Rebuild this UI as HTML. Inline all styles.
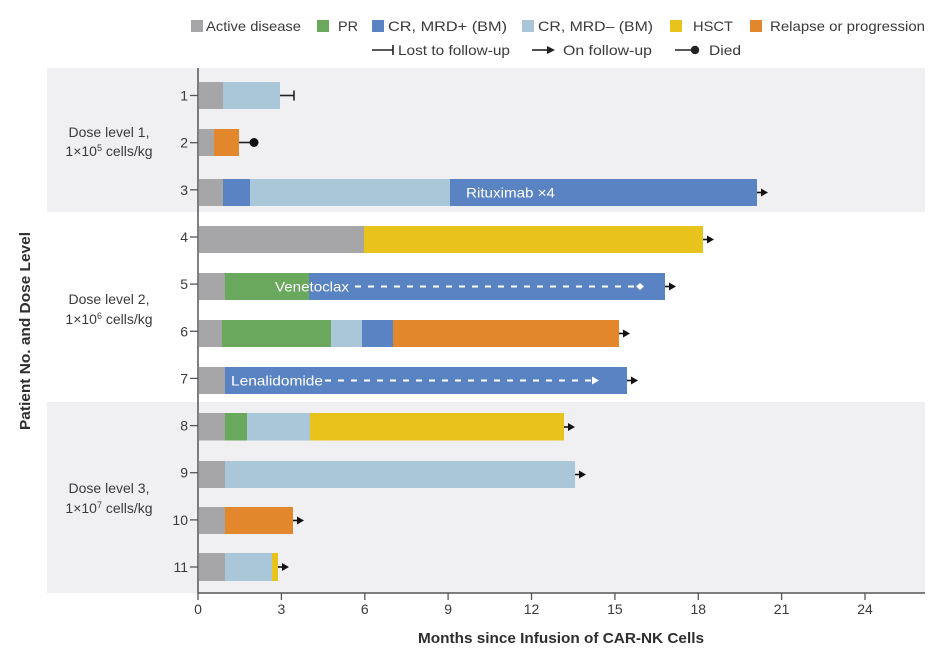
<!DOCTYPE html>
<html><head><meta charset="utf-8"><style>
html,body{margin:0;padding:0;background:#fff;}
svg{display:block;}
text{font-family:"Liberation Sans",sans-serif;fill:#3a3a3a;}
</style></head><body>
<svg width="937" height="658" viewBox="0 0 937 658" xmlns="http://www.w3.org/2000/svg">
<!-- bands -->
<rect x="47" y="68" width="878" height="144" fill="#f0f0f2"/>
<rect x="47" y="402" width="878" height="191" fill="#f0f0f2"/>

<!-- legend row 1 -->
<g font-size="14">
<rect x="191" y="20" width="12" height="12" fill="#a6a6a9"/>
<text x="206" y="31" textLength="95" lengthAdjust="spacingAndGlyphs">Active disease</text>
<rect x="317" y="20" width="12" height="12" fill="#6aa85e"/>
<text x="338" y="31" textLength="20" lengthAdjust="spacingAndGlyphs">PR</text>
<rect x="372" y="20" width="12" height="12" fill="#5a83c4"/>
<text x="388" y="31" textLength="119" lengthAdjust="spacingAndGlyphs">CR, MRD+ (BM)</text>
<rect x="522" y="20" width="12" height="12" fill="#aac6d9"/>
<text x="538" y="31" textLength="115" lengthAdjust="spacingAndGlyphs">CR, MRD– (BM)</text>
<rect x="670" y="20" width="12" height="12" fill="#e8c31c"/>
<text x="693" y="31" textLength="40" lengthAdjust="spacingAndGlyphs">HSCT</text>
<rect x="750" y="20" width="12" height="12" fill="#e3872c"/>
<text x="770" y="31" textLength="155" lengthAdjust="spacingAndGlyphs">Relapse or progression</text>
<!-- legend row 2 -->
<line x1="372" y1="50" x2="393" y2="50" stroke="#222" stroke-width="1.6"/>
<line x1="393" y1="45" x2="393" y2="55" stroke="#222" stroke-width="1.6"/>
<text x="398" y="55" textLength="112" lengthAdjust="spacingAndGlyphs">Lost to follow-up</text>
<line x1="532" y1="50" x2="548" y2="50" stroke="#222" stroke-width="1.6"/>
<polygon points="547,46 555,50 547,54" fill="#222"/>
<text x="563" y="55" textLength="89" lengthAdjust="spacingAndGlyphs">On follow-up</text>
<line x1="675" y1="50" x2="692" y2="50" stroke="#222" stroke-width="1.6"/>
<circle cx="695" cy="50" r="4.2" fill="#222"/>
<text x="709" y="55" textLength="32" lengthAdjust="spacingAndGlyphs">Died</text>
</g>

<!-- axes -->
<line x1="198" y1="68" x2="198" y2="593" stroke="#555" stroke-width="1.5"/>
<line x1="198" y1="593" x2="925" y2="593" stroke="#555" stroke-width="1.5"/>

<!-- x ticks -->
<g stroke="#555" stroke-width="1.3">
<line x1="198" y1="593" x2="198" y2="600"/>
<line x1="281.4" y1="593" x2="281.4" y2="600"/>
<line x1="364.8" y1="593" x2="364.8" y2="600"/>
<line x1="448.1" y1="593" x2="448.1" y2="600"/>
<line x1="531.5" y1="593" x2="531.5" y2="600"/>
<line x1="614.9" y1="593" x2="614.9" y2="600"/>
<line x1="698.3" y1="593" x2="698.3" y2="600"/>
<line x1="781.6" y1="593" x2="781.6" y2="600"/>
<line x1="865" y1="593" x2="865" y2="600"/>
</g>
<g font-size="14" text-anchor="middle">
<text x="198" y="614">0</text>
<text x="281.4" y="614">3</text>
<text x="364.8" y="614">6</text>
<text x="448.1" y="614">9</text>
<text x="531.5" y="614">12</text>
<text x="614.9" y="614">15</text>
<text x="698.3" y="614">18</text>
<text x="781.6" y="614">21</text>
<text x="865" y="614">24</text>
</g>
<text x="561" y="643" font-size="15" font-weight="bold" text-anchor="middle" textLength="286" lengthAdjust="spacingAndGlyphs" style="fill:#2e2e2e">Months since Infusion of CAR-NK Cells</text>

<!-- y title -->
<text transform="translate(30,331) rotate(-90)" font-size="15" font-weight="bold" text-anchor="middle" textLength="198" lengthAdjust="spacingAndGlyphs" style="fill:#2e2e2e">Patient No. and Dose Level</text>

<!-- dose labels -->
<g font-size="14" text-anchor="middle">
<text x="109" y="137">Dose level 1,</text>
<text x="109" y="156">1×10<tspan font-size="9" dy="-5">5</tspan><tspan dy="5"> cells/kg</tspan></text>
<text x="109" y="304">Dose level 2,</text>
<text x="109" y="324">1×10<tspan font-size="9" dy="-5">6</tspan><tspan dy="5"> cells/kg</tspan></text>
<text x="109" y="493">Dose level 3,</text>
<text x="109" y="513">1×10<tspan font-size="9" dy="-5">7</tspan><tspan dy="5"> cells/kg</tspan></text>
</g>

<!-- y ticks and labels -->
<g stroke="#555" stroke-width="1.3">
<line x1="190" y1="95.5" x2="198" y2="95.5"/>
<line x1="190" y1="142.7" x2="198" y2="142.7"/>
<line x1="190" y1="189.8" x2="198" y2="189.8"/>
<line x1="190" y1="237" x2="198" y2="237"/>
<line x1="190" y1="284.1" x2="198" y2="284.1"/>
<line x1="190" y1="331.3" x2="198" y2="331.3"/>
<line x1="190" y1="378.4" x2="198" y2="378.4"/>
<line x1="190" y1="425.6" x2="198" y2="425.6"/>
<line x1="190" y1="472.7" x2="198" y2="472.7"/>
<line x1="190" y1="519.9" x2="198" y2="519.9"/>
<line x1="190" y1="567" x2="198" y2="567"/>
</g>
<g font-size="14" text-anchor="end">
<text x="188" y="100.5">1</text>
<text x="188" y="147.7">2</text>
<text x="188" y="194.8">3</text>
<text x="188" y="242">4</text>
<text x="188" y="289.1">5</text>
<text x="188" y="336.3">6</text>
<text x="188" y="383.4">7</text>
<text x="188" y="430.6">8</text>
<text x="188" y="477.7">9</text>
<text x="188" y="524.9">10</text>
<text x="188" y="572">11</text>
</g>

<!-- bars -->
<!-- Row 1 -->
<g>
<rect x="198.5" y="82" width="24.5" height="27" fill="#a6a6a9"/>
<rect x="223" y="82" width="57" height="27" fill="#aac6d9"/>
<line x1="280" y1="95.5" x2="294" y2="95.5" stroke="#222" stroke-width="1.6"/>
<line x1="294" y1="90.5" x2="294" y2="100.5" stroke="#222" stroke-width="1.6"/>
</g>
<!-- Row 2 -->
<g>
<rect x="198.5" y="129" width="15.5" height="27" fill="#a6a6a9"/>
<rect x="214" y="129" width="25" height="27" fill="#e3872c"/>
<line x1="239" y1="142.5" x2="252" y2="142.5" stroke="#222" stroke-width="1.6"/>
<circle cx="254" cy="142.5" r="4.5" fill="#111"/>
</g>
<!-- Row 3 -->
<g>
<rect x="198.5" y="179" width="24.5" height="27" fill="#a6a6a9"/>
<rect x="223" y="179" width="27" height="27" fill="#5a83c4"/>
<rect x="250" y="179" width="200" height="27" fill="#aac6d9"/>
<rect x="450" y="179" width="307" height="27" fill="#5a83c4"/>
<text x="466" y="197.5" font-size="14" style="fill:#fff" textLength="89" lengthAdjust="spacingAndGlyphs">Rituximab ×4</text>
</g>
<!-- Row 4 -->
<g>
<rect x="198.5" y="226" width="165.5" height="27" fill="#a6a6a9"/>
<rect x="364" y="226" width="339" height="27" fill="#e8c31c"/>
</g>
<!-- Row 5 -->
<g>
<rect x="198.5" y="273" width="26.5" height="27" fill="#a6a6a9"/>
<rect x="225" y="273" width="84" height="27" fill="#6aa85e"/>
<rect x="309" y="273" width="356" height="27" fill="#5a83c4"/>
<text x="275" y="291.5" font-size="14" style="fill:#fff" textLength="74" lengthAdjust="spacingAndGlyphs">Venetoclax</text>
<line x1="355" y1="286.5" x2="634" y2="286.5" stroke="#fff" stroke-width="2" stroke-dasharray="6,7"/>
<polygon points="636,286.5 640,283 644,286.5 640,290" fill="#fff"/>
</g>
<!-- Row 6 -->
<g>
<rect x="198.5" y="320" width="23.5" height="27" fill="#a6a6a9"/>
<rect x="222" y="320" width="109" height="27" fill="#6aa85e"/>
<rect x="331" y="320" width="31" height="27" fill="#aac6d9"/>
<rect x="362" y="320" width="31" height="27" fill="#5a83c4"/>
<rect x="393" y="320" width="226" height="27" fill="#e3872c"/>
</g>
<!-- Row 7 -->
<g>
<rect x="198.5" y="367" width="26.5" height="27" fill="#a6a6a9"/>
<rect x="225" y="367" width="402" height="27" fill="#5a83c4"/>
<text x="231" y="385.5" font-size="14" style="fill:#fff" textLength="92" lengthAdjust="spacingAndGlyphs">Lenalidomide</text>
<line x1="325" y1="380.5" x2="592" y2="380.5" stroke="#fff" stroke-width="2" stroke-dasharray="6,7"/>
<polygon points="592,376.5 599,380.5 592,384.5" fill="#fff"/>
</g>
<!-- Row 8 -->
<g>
<rect x="198.5" y="413" width="26.5" height="27.5" fill="#a6a6a9"/>
<rect x="225" y="413" width="22" height="27.5" fill="#6aa85e"/>
<rect x="247" y="413" width="63" height="27.5" fill="#aac6d9"/>
<rect x="310" y="413" width="254" height="27.5" fill="#e8c31c"/>
</g>
<!-- Row 9 -->
<g>
<rect x="198.5" y="461" width="26.5" height="27" fill="#a6a6a9"/>
<rect x="225" y="461" width="350" height="27" fill="#aac6d9"/>
</g>
<!-- Row 10 -->
<g>
<rect x="198.5" y="507" width="26.5" height="27" fill="#a6a6a9"/>
<rect x="225" y="507" width="68" height="27" fill="#e3872c"/>
</g>
<!-- Row 11 -->
<g>
<rect x="198.5" y="553" width="26.5" height="28" fill="#a6a6a9"/>
<rect x="225" y="553" width="47" height="28" fill="#aac6d9"/>
<rect x="272" y="553" width="6" height="28" fill="#e8c31c"/>
</g>

<!-- follow-up arrows -->
<g stroke="#111" stroke-width="1.6" fill="#111">
<line x1="757" y1="192.5" x2="762" y2="192.5"/><polygon stroke="none" points="761,188.5 768,192.5 761,196.5"/>
<line x1="703" y1="239.5" x2="708" y2="239.5"/><polygon stroke="none" points="707,235.5 714,239.5 707,243.5"/>
<line x1="665" y1="286.5" x2="670" y2="286.5"/><polygon stroke="none" points="669,282.5 676,286.5 669,290.5"/>
<line x1="619" y1="333.5" x2="624" y2="333.5"/><polygon stroke="none" points="623,329.5 630,333.5 623,337.5"/>
<line x1="627" y1="380.5" x2="632" y2="380.5"/><polygon stroke="none" points="631,376.5 638,380.5 631,384.5"/>
<line x1="564" y1="427" x2="569" y2="427"/><polygon stroke="none" points="568,423 575,427 568,431"/>
<line x1="575" y1="474.5" x2="580" y2="474.5"/><polygon stroke="none" points="579,470.5 586,474.5 579,478.5"/>
<line x1="293" y1="520.5" x2="298" y2="520.5"/><polygon stroke="none" points="297,516.5 304,520.5 297,524.5"/>
<line x1="278" y1="567" x2="283" y2="567"/><polygon stroke="none" points="282,563 289,567 282,571"/>
</g>
</svg>
</body></html>
